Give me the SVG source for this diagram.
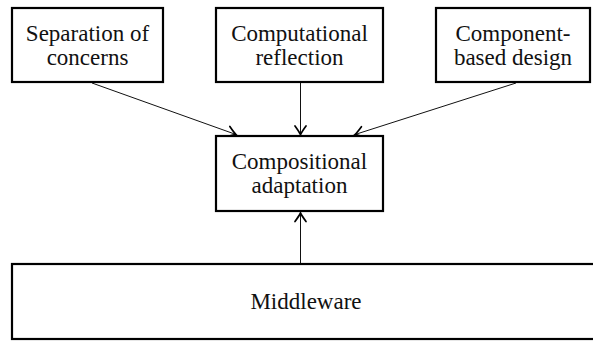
<svg xmlns="http://www.w3.org/2000/svg" width="593" height="341" viewBox="0 0 593 341">
<style>
.box{fill:#fff;stroke:#000;stroke-width:2.2}
.lbl{font-family:"Liberation Serif","Times New Roman",serif;font-size:23px;fill:#111;text-anchor:middle}
.edge{fill:none;stroke:#111;stroke-width:1}
</style>
<defs>
<marker id="arr" markerUnits="userSpaceOnUse" markerWidth="14" markerHeight="14" viewBox="-10 -7 12 14" refX="0" refY="0" orient="auto">
<path d="M-8.5,-5.5 Q-3,-1.5 0,0 Q-3,1.5 -8.5,5.5" fill="none" stroke="#000" stroke-width="1.7" stroke-linecap="round"/>
</marker>
</defs>
<g id="connectors">
<line class="edge" x1="92" y1="83" x2="236" y2="134.5" marker-end="url(#arr)"/>
<line class="edge" x1="300.5" y1="83" x2="300.5" y2="134.5" marker-end="url(#arr)"/>
<line class="edge" x1="516" y1="83" x2="355" y2="134.5" marker-end="url(#arr)"/>
<line class="edge" x1="300.5" y1="264" x2="300.5" y2="213" marker-end="url(#arr)"/>
</g>
<g id="separation">
<rect class="box" x="12" y="8" width="151" height="74"/>
<text class="lbl" x="87.5" y="41">Separation of</text>
<text class="lbl" x="87.5" y="65">concerns</text>
</g>
<g id="reflection">
<rect class="box" x="216" y="8" width="167" height="74"/>
<text class="lbl" x="299.5" y="41">Computational</text>
<text class="lbl" x="299.5" y="65">reflection</text>
</g>
<g id="component">
<rect class="box" x="436" y="8" width="154" height="74"/>
<text class="lbl" x="513" y="41">Component-</text>
<text class="lbl" x="513" y="65">based design</text>
</g>
<g id="compositional">
<rect class="box" x="216" y="136" width="167" height="75"/>
<text class="lbl" x="299.5" y="169">Compositional</text>
<text class="lbl" x="299.5" y="193">adaptation</text>
</g>
<g id="middleware">
<rect class="box" x="12" y="264" width="600" height="75"/>
<text class="lbl" x="306" y="309">Middleware</text>
</g>
</svg>
